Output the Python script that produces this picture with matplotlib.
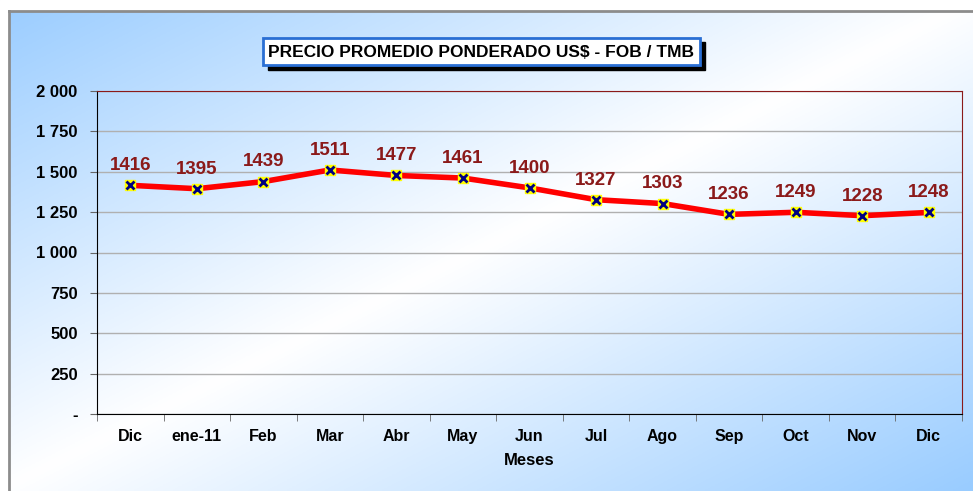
import numpy as np
import matplotlib
matplotlib.use("Agg")
import matplotlib.pyplot as plt
from matplotlib.patches import Rectangle
from matplotlib.lines import Line2D

meses = ["Dic", "ene-11", "Feb", "Mar", "Abr", "May", "Jun", "Jul", "Ago", "Sep", "Oct", "Nov", "Dic"]
precio = [1416, 1395, 1439, 1511, 1477, 1461, 1400, 1327, 1303, 1236, 1249, 1228, 1248]
y_ticks = [0, 250, 500, 750, 1000, 1250, 1500, 1750, 2000]
y_tick_labels = ["-", "250", "500", "750", "1 000", "1 250", "1 500", "1 750", "2 000"]

plt.rcParams['font.family'] = ['Liberation Sans', 'DejaVu Sans']
plt.rcParams['font.weight'] = 'bold'

W, H = 973, 491
fig = plt.figure(figsize=(W / 100, H / 100), dpi=100)

# background gradient (blue -> white -> blue along the diagonal)
bg = fig.add_axes([0, 0, 1, 1])
xx, yy = np.meshgrid(np.linspace(0, 1, 400), np.linspace(0, 1, 200))
d = np.abs((xx + yy) / 2 - 0.5) * 2
blue = np.array([0.60, 0.80, 1.0])
white = np.array([1.0, 1.0, 1.0])
img = white[None, None, :] * (1 - d[..., None]) + blue[None, None, :] * d[..., None]
bg.imshow(img, extent=[0, W, H, 0], aspect='auto')
bg.add_patch(Rectangle((0, 0), W, 10, color='white'))
bg.add_patch(Rectangle((0, 0), 8, H, color='white'))
bg.add_line(Line2D([9, 9], [11, H], color='#8c8c8c', lw=2))
bg.add_line(Line2D([9, W], [11, 11], color='#8c8c8c', lw=2))
bg.set_xlim(0, W)
bg.set_ylim(H, 0)
bg.axis('off')

# title box with shadow
bg.add_patch(Rectangle((268, 42), 437, 28, color='black'))
bg.add_patch(Rectangle((263, 38), 437, 27, facecolor='white', edgecolor='#2a6fd4', lw=2))
bg.text(481.5, 52, "PRECIO PROMEDIO PONDERADO US$ - FOB / TMB", ha='center', va='center',
        fontsize=12.5, fontweight='bold', color='black')

ax = fig.add_axes([97 / W, 77 / H, 865 / W, 323 / H])
ax.patch.set_alpha(0)
x = np.arange(len(meses))
ax.plot(x, precio, color='#ff0000', lw=4, zorder=3)
ax.plot(x, precio, ls='none', marker='s', ms=7, mfc='#ffff00', mec='#ffff00', zorder=4)
ax.plot(x, precio, ls='none', marker='x', ms=6, mew=2, color='#000080', zorder=5)
for xi, v in zip(x, precio):
    ax.annotate(str(v), (xi, v), xytext=(0, 8), textcoords='offset points', ha='center',
                va='bottom', fontsize=13.5, fontweight='bold', color='#8b1a1a')

ax.set_xlim(-0.5, len(meses) - 0.5)
ax.set_ylim(0, 2000)
ax.set_yticks(y_ticks)
ax.set_yticklabels(y_tick_labels, fontsize=12, fontweight='bold')
ax.set_xticks(x)
ax.set_xticklabels(meses, fontsize=11.5, fontweight='bold')
ax.set_xticks(np.arange(-0.5, len(meses)), minor=True)
ax.tick_params(axis='x', which='major', length=0, pad=11)
ax.tick_params(axis='x', which='minor', length=5, color='#666666')
ax.tick_params(axis='y', length=5, color='#666666', pad=9)
ax.grid(axis='y', color='#b0b0b0', lw=1)
ax.set_axisbelow(True)
ax.spines['top'].set_color('#8b1a1a')
ax.spines['right'].set_color('#8b1a1a')
ax.spines['left'].set_color('black')
ax.spines['bottom'].set_color('black')
ax.set_xlabel("Meses", fontsize=12, fontweight='bold', labelpad=6)

fig.savefig("out.png", dpi=100)
